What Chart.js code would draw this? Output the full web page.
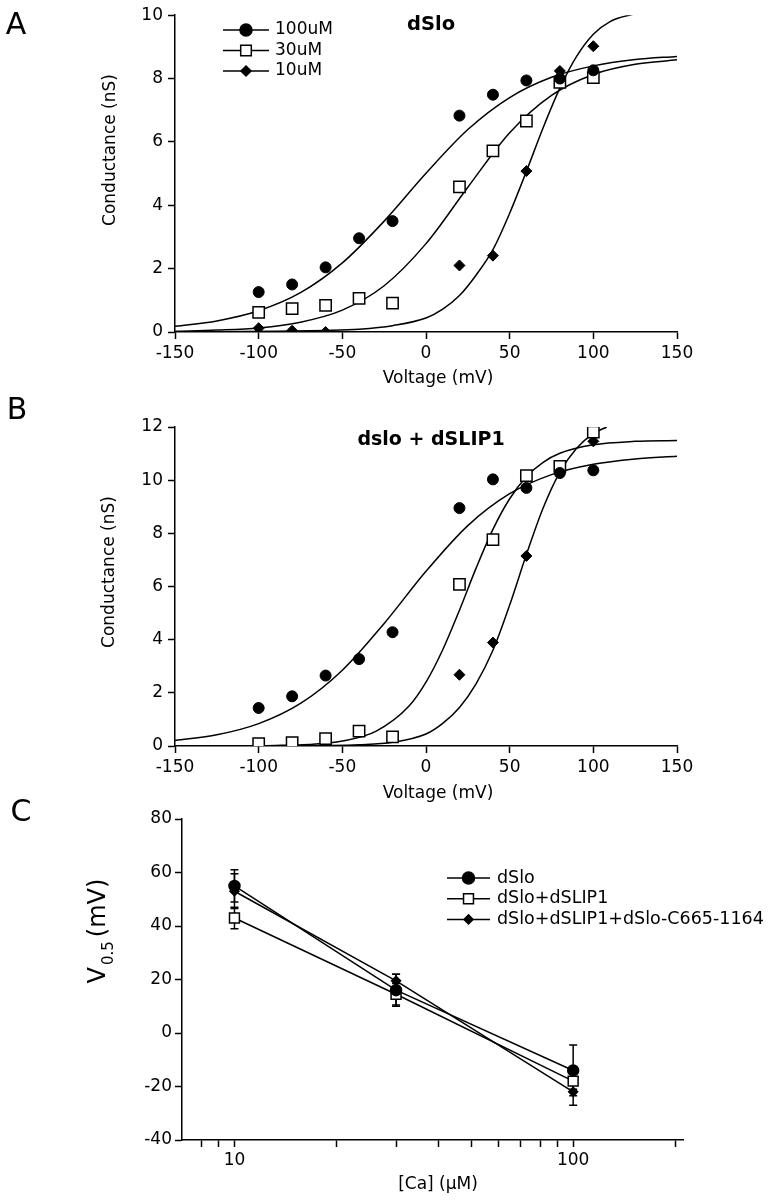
<!DOCTYPE html>
<html>
<head>
<meta charset="utf-8">
<script src="https://cdn.jsdelivr.net/npm/chart.js@4.4.1/dist/chart.umd.min.js"></script>
<style>
body { margin: 0; background: #fff; }
canvas { position: absolute; left: 0; }
</style>
</head>
<body>
<canvas id="panelA" width="770" height="392" style="top:0px"></canvas>
<canvas id="panelB" width="770" height="420" style="top:392px"></canvas>
<canvas id="panelC" width="770" height="410" style="top:790px"></canvas>
<script>
// ---- data ----
const voltages = [-100, -80, -60, -40, -20, 20, 40, 60, 80, 100];
const concLabels = ['100uM', '30uM', '10uM'];

// A: dSlo
const gA100 = [1.26, 1.50, 2.04, 2.96, 3.50, 6.83, 7.49, 7.94, 8.00, 8.26];
const gA30 = [0.62, 0.74, 0.84, 1.06, 0.91, 4.58, 5.72, 6.66, 7.88, 8.03];
const gA10 = [0.12, 0.04, 0.00, null, null, 2.10, 2.41, 5.08, 8.24, 9.02];

// B: dslo + dSLIP1
const gB100 = [1.43, 1.87, 2.65, 3.27, 4.28, 8.95, 10.03, 9.71, 10.27, 10.37];
const gB30 = [0.09, 0.13, 0.28, 0.56, 0.34, 6.08, 7.76, 10.17, 10.52, 11.81];
const gB10 = [null, null, null, null, null, 2.68, 3.89, 7.15, 10.47, 11.46];

// fitted curves
const fitV = [-150, -125, -100, -75, -50, -25, 0, 25, 50, 75, 100, 125, 150];
const fitA100 = [0.18, 0.35, 0.67, 1.24, 2.18, 3.50, 5.01, 6.39, 7.40, 8.04, 8.40, 8.60, 8.70];
const fitA30 = [0.02, 0.06, 0.13, 0.31, 0.69, 1.46, 2.79, 4.57, 6.29, 7.47, 8.13, 8.45, 8.59];
const fitA10V = [-150, -120, -90, -60, -40, -20, 0, 10, 20, 30, 40, 50, 60, 70, 80, 90, 100, 110, 125];
const fitA10 = [0.0, 0.01, 0.02, 0.05, 0.09, 0.2, 0.44, 0.72, 1.15, 1.8, 2.6, 3.75, 5.07, 6.45, 7.7, 8.7, 9.4, 9.8, 10.05];

const fitB100 = [0.21, 0.42, 0.84, 1.60, 2.85, 4.61, 6.57, 8.29, 9.49, 10.21, 10.60, 10.80, 10.90];
const fitB30V = [-110, -90, -70, -50, -30, -10, 0, 10, 20, 30, 40, 50, 60, 70, 80, 100, 125, 150];
const fitB30 = [0.01, 0.02, 0.06, 0.19, 0.55, 1.51, 2.40, 3.62, 5.11, 6.70, 8.15, 9.30, 10.13, 10.67, 11.01, 11.33, 11.46, 11.49];
const fitB10V = [-110, -80, -60, -40, -20, 0, 10, 20, 30, 40, 50, 60, 70, 80, 90, 100, 108];
const fitB10 = [0.0, 0.01, 0.02, 0.05, 0.14, 0.45, 0.85, 1.45, 2.35, 3.6, 5.3, 7.2, 8.95, 10.3, 11.2, 11.75, 12.0];

// C: V0.5 vs [Ca]
const caConc = [10, 30, 100];
const constructs = ['dSlo', 'dSlo+dSLIP1', 'dSlo+dSLIP1+dSlo-C665-1164'];
const vSlo = [55, 16, -14];
const vSlip = [43, 14.5, -18];
const vC665 = [53, 19.5, -22];
const errSlo = [6, 6, 9.5];
const errSlip = [4, 4, 3];
const errC665 = [6.5, 2.5, 5];
const caTicks = [8, 9, 10, 20, 30, 40, 50, 60, 70, 80, 90, 100, 200];

// ---- helpers ----
function pts(xs, ys) {
  return xs.map((x, i) => ({ x: x, y: ys[i] })).filter(p => p.y !== null);
}

function marker(ctx, style, x, y, r, fill) {
  ctx.beginPath();
  if (style === 'circle') {
    ctx.arc(x, y, r, 0, Math.PI * 2);
  } else if (style === 'rect') {
    const s = r * Math.SQRT1_2;
    ctx.rect(x - s, y - s, 2 * s, 2 * s);
  } else {
    ctx.moveTo(x, y - r); ctx.lineTo(x + r, y); ctx.lineTo(x, y + r); ctx.lineTo(x - r, y);
    ctx.closePath();
  }
  ctx.fillStyle = fill;
  ctx.fill();
  ctx.lineWidth = 1.5;
  ctx.strokeStyle = '#000';
  ctx.stroke();
}

const texts = {
  id: 'texts',
  afterDraw(chart, args, opts) {
    const ctx = chart.ctx;
    (opts.items || []).forEach(it => {
      ctx.save();
      ctx.translate(it.x, it.y);
      if (it.rotate) ctx.rotate(it.rotate * Math.PI / 180);
      ctx.fillStyle = '#000';
      ctx.textBaseline = it.baseline || 'middle';
      ctx.textAlign = 'left';
      const parts = it.parts || [{ text: it.text }];
      let total = 0;
      parts.forEach(p => {
        ctx.font = p.font || it.font;
        p.w = ctx.measureText(p.text).width;
        total += p.w + (p.gap || 0);
      });
      let u = -total / 2;
      parts.forEach(p => {
        ctx.font = p.font || it.font;
        ctx.fillText(p.text, u, p.dy || 0);
        u += p.w + (p.gap || 0);
      });
      ctx.restore();
    });
  }
};

const lineLegend = {
  id: 'lineLegend',
  afterDraw(chart, args, opts) {
    if (!opts.items) return;
    const ctx = chart.ctx;
    ctx.save();
    opts.items.forEach((it, i) => {
      const y = opts.y + i * opts.row;
      ctx.strokeStyle = '#000';
      ctx.lineWidth = 1.5;
      ctx.beginPath();
      ctx.moveTo(opts.x, y);
      ctx.lineTo(opts.x + opts.len, y);
      ctx.stroke();
      marker(ctx, it.style, opts.x + opts.len / 2, y, it.r, it.fill);
      ctx.fillStyle = '#000';
      ctx.font = opts.font;
      ctx.textBaseline = 'middle';
      ctx.fillText(it.label, opts.x + opts.len + opts.gap, y);
    });
    ctx.restore();
  }
};

const errorBars = {
  id: 'errorBars',
  beforeDatasetsDraw(chart) {
    const ctx = chart.ctx, xs = chart.scales.x, ys = chart.scales.y;
    ctx.save();
    ctx.strokeStyle = '#000';
    ctx.lineWidth = 1.5;
    chart.data.datasets.forEach(ds => {
      if (!ds.errors) return;
      ds.data.forEach((p, i) => {
        const e = ds.errors[i];
        const x = xs.getPixelForValue(p.x);
        const y1 = ys.getPixelForValue(p.y + e), y2 = ys.getPixelForValue(p.y - e);
        ctx.beginPath();
        ctx.moveTo(x, y1); ctx.lineTo(x, y2);
        ctx.moveTo(x - 4, y1); ctx.lineTo(x + 4, y1);
        ctx.moveTo(x - 4, y2); ctx.lineTo(x + 4, y2);
        ctx.stroke();
      });
    });
    ctx.restore();
  }
};

const FONT = '"DejaVu Sans", sans-serif';
const grid = { drawOnChartArea: false, drawTicks: true, tickLength: 7, tickColor: '#000', tickWidth: 1.5 };
const border = { display: true, color: '#000', width: 1.5 };

function curve(xs, ys) {
  return {
    data: pts(xs, ys), showLine: true, pointRadius: 0, borderColor: '#000', borderWidth: 1.5,
    cubicInterpolationMode: 'monotone'
  };
}
function dots(ys, style) {
  const open = style === 'rect';
  return {
    data: pts(voltages, ys), showLine: false, pointStyle: style,
    pointRadius: style === 'circle' ? 5.5 : (open ? 8 : 5.5),
    pointBackgroundColor: open ? '#fff' : '#000', pointBorderColor: '#000', pointBorderWidth: open ? 1.5 : 1
  };
}

function voltagePanel(id, height, top, yMax, sets, items, legend) {
  return new Chart(document.getElementById(id), {
    type: 'scatter',
    data: { datasets: sets },
    plugins: [texts, lineLegend],
    options: {
      responsive: false, animation: false, devicePixelRatio: 1,
      layout: { padding: { left: 90, right: 93, top: top, bottom: 0 } },
      plugins: {
        legend: { display: false }, tooltip: { enabled: false },
        texts: { items: items },
        lineLegend: legend || {}
      },
      scales: {
        x: {
          type: 'linear', min: -150, max: 150,
          afterFit: s => { s.height = height - 332 - (top - 13); },
          grid: grid, border: border,
          ticks: { stepSize: 50, color: '#000', font: { family: FONT, size: 17 }, padding: 4, maxRotation: 0 }
        },
        y: {
          min: 0, max: yMax,
          afterFit: s => { s.width = 85; },
          grid: grid, border: border,
          ticks: { stepSize: 2, color: '#000', font: { family: FONT, size: 17 }, padding: 5 }
        }
      }
    }
  });
}

// Panel A
voltagePanel('panelA', 392, 13, 10, [
  dots(gA100, 'circle'), dots(gA30, 'rect'), dots(gA10, 'rectRot'),
  curve(fitV, fitA100), curve(fitV, fitA30), curve(fitA10V, fitA10)
], [
  { text: 'A', x: 16, y: 26, font: '30px ' + FONT },
  { text: 'dSlo', x: 431, y: 25, font: 'bold 19.5px ' + FONT },
  { text: 'Voltage (mV)', x: 438, y: 379, font: '17px ' + FONT },
  { text: 'Conductance (nS)', x: 111, y: 150, rotate: -90, font: '17px ' + FONT }
], {
  x: 223, y: 30, row: 20.5, len: 46, gap: 6, font: '17px ' + FONT,
  items: [
    { label: concLabels[0], style: 'circle', r: 6, fill: '#000' },
    { label: concLabels[1], style: 'rect', r: 7.5, fill: '#fff' },
    { label: concLabels[2], style: 'rectRot', r: 5, fill: '#000' }
  ]
});

// Panel B (canvas starts at page y 392)
voltagePanel('panelB', 420, 35, 12, [
  dots(gB100, 'circle'), dots(gB30, 'rect'), dots(gB10, 'rectRot'),
  curve(fitV, fitB100), curve(fitB30V, fitB30), curve(fitB10V, fitB10)
], [
  { text: 'B', x: 17, y: 19, font: '30px ' + FONT },
  { text: 'dslo + dSLIP1', x: 431, y: 48, font: 'bold 19px ' + FONT },
  { text: 'Voltage (mV)', x: 438, y: 402, font: '17px ' + FONT },
  { text: 'Conductance (nS)', x: 110, y: 180, rotate: -90, font: '17px ' + FONT }
]);

// Panel C (canvas starts at page y 790)
function series(ys, errs, style, r, fill) {
  return {
    data: pts(caConc, ys), errors: errs, showLine: true, borderColor: '#000', borderWidth: 1.5,
    pointStyle: style, pointRadius: r, pointBackgroundColor: fill, pointBorderColor: '#000', pointBorderWidth: 1.5
  };
}

new Chart(document.getElementById('panelC'), {
  type: 'scatter',
  data: {
    datasets: [
      series(vSlo, errSlo, 'circle', 5.5, '#000'),
      series(vSlip, errSlip, 'rect', 7, '#fff'),
      series(vC665, errC665, 'rectRot', 4.5, '#000')
    ]
  },
  plugins: [texts, lineLegend, errorBars],
  options: {
    responsive: false, animation: false, devicePixelRatio: 1,
    layout: { padding: { left: 60, right: 87, top: 29, bottom: 0 } },
    plugins: {
      legend: { display: false }, tooltip: { enabled: false },
      texts: {
        items: [
          { text: 'C', x: 21, y: 23, font: '30px ' + FONT },
          { text: '[Ca] (\u00b5M)', x: 438, y: 395, font: '17px ' + FONT },
          {
            x: 105, y: 141, rotate: -90, baseline: 'alphabetic', font: '24px ' + FONT,
            parts: [
              { text: 'V', gap: 2 },
              { text: '0.5', font: '15px ' + FONT, dy: 8, gap: 4 },
              { text: '(mV)' }
            ]
          }
        ]
      },
      lineLegend: {
        x: 447, y: 88, row: 20.7, len: 43, gap: 7, font: '17.5px ' + FONT,
        items: [
          { label: constructs[0], style: 'circle', r: 6, fill: '#000' },
          { label: constructs[1], style: 'rect', r: 7, fill: '#fff' },
          { label: constructs[2], style: 'rectRot', r: 4.5, fill: '#000' }
        ]
      }
    },
    scales: {
      x: {
        type: 'logarithmic', min: 7, max: 211,
        afterFit: s => { s.height = 60; },
        afterBuildTicks: s => { s.ticks = caTicks.map(v => ({ value: v })); },
        grid: grid, border: border,
        ticks: {
          autoSkip: false, maxRotation: 0, padding: 3, color: '#000', font: { family: FONT, size: 17 },
          callback: v => (v === 10 || v === 100) ? String(v) : ''
        }
      },
      y: {
        min: -40, max: 80,
        afterFit: s => { s.width = 122; },
        grid: grid, border: border,
        ticks: { stepSize: 20, color: '#000', font: { family: FONT, size: 17 }, padding: 3 }
      }
    }
  }
});
</script>
</body>
</html>
